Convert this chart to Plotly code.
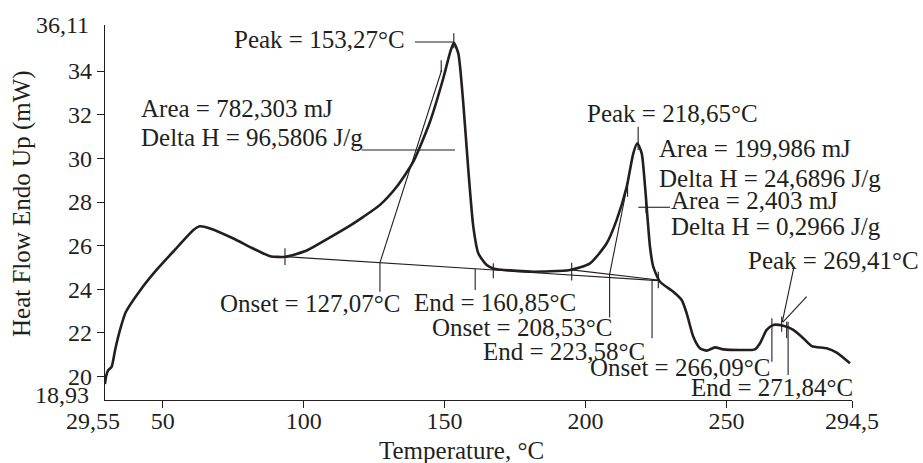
import plotly.graph_objects as go

# ---------------- data ----------------
temperature = [29.55, 29.9, 30.7, 31.9, 33.1, 34.9, 36.9, 42.0, 47.9, 55.0, 60.9, 63.2,
               66.8, 75.1, 82.1, 88.1, 93.4, 101.1, 109.35, 116.45, 121.17, 127.09, 133.0,
               138.9, 144.82, 149.54, 152.03, 153.27, 154.86, 156.63, 158.41, 160.18,
               161.95, 164.93, 167.27, 180.3, 194.48, 201.57, 207.5, 211.04, 214.59,
               216.93, 218.35, 219.91, 221.1, 222.85, 224.0, 226.4, 231.12, 234.09,
               235.87, 238.21, 240.59, 242.96, 245.91, 248.85, 254.77, 260.09, 261.87,
               264.24, 266.58, 270.13, 273.68, 277.22, 280.2, 285.52, 289.07, 293.79]
heat_flow = [19.66, 20.0, 20.3, 20.45, 21.2, 22.15, 22.95, 23.95, 24.9, 25.9, 26.72, 26.89,
             26.79, 26.33, 25.87, 25.52, 25.49, 25.78, 26.38, 26.92, 27.32, 27.87, 28.7,
             29.85, 31.68, 33.67, 34.89, 35.30, 34.81, 32.52, 29.47, 26.87,
             25.65, 25.11, 24.96, 24.81, 24.89, 25.19, 26.11, 27.18, 28.70,
             30.23, 30.69, 30.23, 28.70, 25.95, 25.04, 24.35, 23.89, 23.51,
             22.90, 21.83, 21.30, 21.19, 21.34, 21.25, 21.22, 21.25, 21.53,
             22.14, 22.37, 22.33, 22.14, 21.76, 21.40, 21.30, 21.10, 20.61]

x_tick_values = [50, 100, 150, 200, 250, 294.5]
x_tick_labels = ["50", "100", "150", "200", "250", "294,5"]
y_tick_values = [20, 22, 24, 26, 28, 30, 32, 34]
y_tick_labels = ["20", "22", "24", "26", "28", "30", "32", "34"]
x_range = [29.55, 294.5]
y_range = [18.93, 36.11]
x_range_labels = ["29,55", "294,5"]
y_range_labels = ["18,93", "36,11"]

# analysis construction segments (temperature pairs, heat-flow pairs)
seg_x = [
    [139.5, 153.27], [153.27, 153.27], [120.6, 153.69],
    [93.39, 225.69], [93.39, 93.39], [167.27, 167.27],
    [127.07, 127.07], [127.07, 148.97], [148.8, 148.8], [160.85, 160.85],
    [195.08, 225.80], [195.08, 195.08], [225.8, 225.8],
    [208.53, 208.53], [208.53, 214.94], [214.9, 214.9], [223.58, 223.58],
    [218.65, 218.65], [218.7, 229.94], [221.43, 221.43],
    [266.09, 266.09], [271.84, 271.84], [273.93, 269.77], [278.43, 270.0],
    [269.56, 269.56], [271.33, 271.33],
]
seg_y = [
    [35.33, 35.33], [35.73, 35.04], [30.38, 30.38],
    [25.50, 24.40], [25.88, 25.12], [25.19, 24.51],
    [25.22, 23.89], [25.22, 34.05], [34.49, 33.96], [24.94, 23.97],
    [24.89, 24.43], [25.22, 24.40], [24.81, 24.05],
    [24.69, 22.71], [24.69, 28.86], [29.01, 28.24], [24.46, 21.76],
    [31.45, 30.38], [27.76, 27.76], [28.17, 27.48],
    [22.67, 20.68], [22.52, 20.08], [25.04, 22.5], [23.67, 22.5],
    [22.75, 22.06], [22.52, 21.76],
]

labels = [
    "Peak = 153,27°C", "Area = 782,303 mJ", "Delta H = 96,5806 J/g",
    "Onset = 127,07°C", "End = 160,85°C", "Onset = 208,53°C", "End = 223,58°C",
    "Onset = 266,09°C", "End = 271,84°C", "Peak = 269,41°C", "Peak = 218,65°C",
    "Area = 199,986 mJ", "Delta H = 24,6896 J/g", "Area = 2,403 mJ",
    "Delta H = 0,2966 J/g",
]

# ---------------- layout constants ----------------
W, H = 923, 463
L, R, T, B = 105, 71, 25, 63
PW, PH = W - L - R, H - T - B
INK = "#231f20"
FONT = "Liberation Serif, Times New Roman, Times, DejaVu Serif, serif"
FS = 25
TFS = 24


def xp(px):
    return (px - L) / PW


def yp(py):
    return (H - B - py) / PH


# label placements: (pixel x, pixel y, anchor)
label_pos = [
    (407, 39, "right"), (139, 108, "left"), (139, 137, "left"),
    (310, 303, "center"), (495, 302, "center"), (521.5, 327, "center"),
    (564, 351, "center"), (680, 367, "center"), (772, 387, "center"),
    (833, 260, "center"), (672.5, 113, "center"),
    (657, 148, "left"), (657, 178, "left"), (669, 200, "left"), (669, 227, "left"),
]

fig = go.Figure()

cx, cy = [], []
for sx, sy in zip(seg_x, seg_y):
    cx += sx + [None]
    cy += sy + [None]
fig.add_trace(go.Scatter(x=cx, y=cy, mode="lines",
                         line=dict(color=INK, width=1.1), hoverinfo="skip",
                         showlegend=False))

fig.add_trace(go.Scatter(x=temperature, y=heat_flow, mode="lines",
                         line=dict(color=INK, width=2.6, shape="spline", smoothing=0.6),
                         showlegend=False))

annotations = []
for text, (px, py, anc) in zip(labels, label_pos):
    annotations.append(dict(text=text, xref="paper", yref="paper", x=xp(px), y=yp(py),
                            xanchor=anc, yanchor="middle", showarrow=False,
                            font=dict(family=FONT, size=FS, color=INK)))

# axis end labels
annotations.append(dict(text=x_range_labels[0], xref="paper", yref="paper",
                        x=xp(92.5), y=yp(421.5), xanchor="center", yanchor="middle",
                        showarrow=False, font=dict(family=FONT, size=TFS, color=INK)))
annotations.append(dict(text=y_range_labels[0], xref="paper", yref="paper",
                        x=xp(91), y=yp(395), xanchor="right", yanchor="middle",
                        showarrow=False, font=dict(family=FONT, size=TFS, color=INK)))
annotations.append(dict(text=y_range_labels[1], xref="paper", yref="paper",
                        x=xp(91), y=yp(25), xanchor="right", yanchor="middle",
                        showarrow=False, font=dict(family=FONT, size=TFS, color=INK)))
# axis titles
annotations.append(dict(text="Temperature, °C", xref="paper", yref="paper",
                        x=xp(461.5), y=yp(450), xanchor="center", yanchor="middle",
                        showarrow=False, font=dict(family=FONT, size=FS, color=INK)))
annotations.append(dict(text="Heat Flow Endo Up (mW)", xref="paper", yref="paper",
                        x=xp(22), y=yp(204), xanchor="center", yanchor="middle",
                        textangle=-90, showarrow=False,
                        font=dict(family=FONT, size=FS, color=INK)))

fig.update_layout(
    width=W, height=H,
    margin=dict(l=L, r=R, t=T, b=B),
    paper_bgcolor="white", plot_bgcolor="white",
    font=dict(family=FONT, size=TFS, color=INK),
    annotations=annotations,
    xaxis=dict(range=x_range, tickvals=x_tick_values, ticktext=x_tick_labels,
               showgrid=False, zeroline=False, showline=True, linecolor=INK,
               linewidth=1.2, ticks="outside", ticklen=7, tickcolor=INK, tickwidth=1.2,
               ticklabelstandoff=-8,
               tickfont=dict(family=FONT, size=TFS, color=INK)),
    yaxis=dict(range=y_range, tickvals=y_tick_values, ticktext=y_tick_labels,
               showgrid=False, zeroline=False, showline=True, linecolor=INK,
               linewidth=1.2, ticks="outside", ticklen=7, tickcolor=INK, tickwidth=1.2,
               tickfont=dict(family=FONT, size=TFS, color=INK)),
)

fig.write_html("out.html",
               config={"displayModeBar": False},
               post_script="document.body.style.margin='0px';"
                           "document.body.style.padding='0px';")
